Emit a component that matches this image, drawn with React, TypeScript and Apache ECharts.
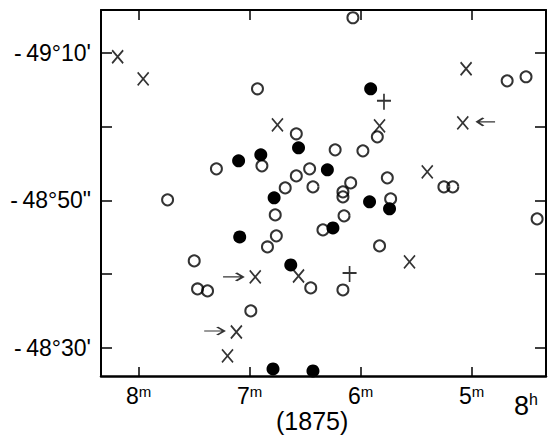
import React, { useEffect, useRef } from "react";
import * as echarts from "echarts";

// Right ascension (minutes of 8h) and declination (arcmin south of -48°)
const openCircles: [number, number][] = [
  [6.93, 65.12], [6.58, 59.02], [6.89, 54.68], [7.3, 54.27], [7.74, 50.07],
  [6.46, 54.27], [6.58, 53.32], [6.68, 51.69], [6.43, 51.83], [6.77, 48.03],
  [6.07, 74.75], [4.68, 66.2], [4.51, 66.75], [5.85, 58.61], [6.23, 56.85],
  [5.98, 56.71], [6.09, 52.37], [6.16, 51.15], [6.16, 50.47], [5.76, 53.05],
  [5.25, 51.83], [5.17, 51.83], [5.73, 50.2], [6.15, 47.9], [4.41, 47.49],
  [6.34, 46.0], [5.83, 43.83], [6.45, 38.14], [6.16, 37.86], [6.76, 45.19],
  [6.84, 43.69], [7.5, 41.8], [7.47, 38.0], [7.38, 37.73], [6.99, 35.02],
];
const filledCircles: [number, number][] = [
  [7.1, 55.36], [6.9, 56.17], [6.56, 57.12], [6.78, 50.34], [5.91, 65.12],
  [6.3, 54.14], [5.92, 49.8], [5.74, 48.85], [6.25, 46.27], [7.09, 45.05],
  [6.63, 41.25], [6.79, 27.15], [6.43, 26.88],
];
const crossMarks: [number, number][] = [
  [8.19, 69.46], [7.96, 66.47], [6.75, 60.24], [5.05, 67.83], [5.83, 60.1],
  [5.08, 60.51], [5.4, 53.86], [5.56, 41.66], [6.56, 39.76], [6.95, 39.63],
  [7.12, 32.17], [7.2, 28.92],
];
const plusMarks: [number, number][] = [
  [5.79, 63.36], [6.1, 40.03],
];
const rightArrows: [number, number][] = [
  [7.15, 39.63], [7.32, 32.3],
];
const leftArrows: [number, number][] = [
  [4.87, 60.64],
];

const xTicks = [5, 6, 7, 8];
const yTicks = [30, 40, 50, 60, 70];
const yLabelValues = [30, 50, 70];
const yLabelText: Record<number, string> = {
  70: "-\u200949°10'",
  50: "-\u200948°50\"",
  30: "-\u200948°30'",
};
const epochLabel = "(1875)";
const hourLabel = "8";

const INK = "#000000";
const FONT = "'Liberation Sans', Arial, sans-serif";

export default function App() {
  const ref = useRef<HTMLDivElement>(null);
  useEffect(() => {
    if (!ref.current) return;
    const chart = echarts.init(ref.current, null, { renderer: "svg" });
    const xMin = 4.33, xMax = 8.34, yMin = 26.2, yMax = 75.8;
    const axisLine = { show: true, lineStyle: { color: INK, width: 2 } };
    const xAxisBase = {
      type: "value",
      min: xMin,
      max: xMax,
      inverse: true,
      splitLine: { show: false },
      axisLine,
    };
    const yAxisBase = {
      type: "value",
      min: yMin,
      max: yMax,
      splitLine: { show: false },
      axisLine,
    };
    chart.setOption({
      animation: false,
      backgroundColor: "#ffffff",
      grid: { left: 101, right: 14, top: 10, bottom: 67, containLabel: false },
      xAxis: [
        {
          ...xAxisBase,
          position: "bottom",
          axisLine: { show: true, lineStyle: { color: INK, width: 2.5 } },
          axisTick: { show: true, inside: true, length: 9, customValues: xTicks, lineStyle: { color: INK, width: 1.5 } },
          axisLabel: {
            show: true,
            customValues: xTicks,
            margin: 8,
            formatter: (v: number) => `{n|${v}}{s|m}`,
            rich: {
              n: { fontSize: 23, fontFamily: FONT, color: INK, lineHeight: 24 },
              s: { fontSize: 15, fontFamily: FONT, color: INK, lineHeight: 14, verticalAlign: "top" },
            },
          },
        },
        {
          ...xAxisBase,
          position: "top",
          axisTick: { show: true, inside: true, length: 10, customValues: xTicks, lineStyle: { color: INK, width: 1.5 } },
          axisLabel: { show: false },
        },
      ],
      yAxis: [
        {
          ...yAxisBase,
          position: "left",
          axisTick: { show: true, inside: true, length: 11, customValues: yTicks, lineStyle: { color: INK, width: 1.5 } },
          axisLabel: {
            show: true,
            customValues: yLabelValues,
            margin: 10,
            fontSize: 23,
            fontFamily: FONT,
            color: INK,
            formatter: (v: number) => yLabelText[Math.round(v)] ?? "",
          },
        },
        {
          ...yAxisBase,
          position: "right",
          axisTick: { show: true, inside: true, length: 11, customValues: yTicks, lineStyle: { color: INK, width: 1.5 } },
          axisLabel: { show: false },
        },
      ],
      graphic: [
        {
          type: "text",
          left: 312 - 36,
          top: 408,
          style: { text: epochLabel, font: `25px ${FONT}`, fill: INK },
        },
        {
          type: "text",
          left: 514,
          top: 391,
          style: {
            text: `{n|${hourLabel}}{s|h}`,
            rich: {
              n: { fontSize: 27, fontFamily: FONT, fill: INK, lineHeight: 30 },
              s: { fontSize: 16, fontFamily: FONT, fill: INK, lineHeight: 16, verticalAlign: "top" },
            },
          },
        },
      ],
      series: [
        {
          type: "scatter",
          data: openCircles,
          symbol: "circle",
          symbolSize: 11,
          itemStyle: { color: "rgba(0,0,0,0)", borderColor: INK, borderWidth: 2 },
        },
        {
          type: "scatter",
          data: filledCircles,
          symbol: "circle",
          symbolSize: 13,
          itemStyle: { color: INK, borderColor: INK, borderWidth: 0, opacity: 1 },
        },
        {
          type: "scatter",
          data: crossMarks,
          symbol: "path://M0,0L10,12M10,0L0,12",
          symbolSize: [11, 13],
          itemStyle: { color: "rgba(0,0,0,0)", borderColor: INK, borderWidth: 1.8 },
        },
        {
          type: "scatter",
          data: plusMarks,
          symbol: "path://M7,0L7,16M0,7L14,7",
          symbolSize: [14, 16],
          itemStyle: { color: "rgba(0,0,0,0)", borderColor: INK, borderWidth: 1.8 },
        },
        {
          type: "scatter",
          data: rightArrows,
          symbol: "path://M0,5L20,5M13,1L20,5L13,9",
          symbolSize: [20, 8],
          itemStyle: { color: "rgba(0,0,0,0)", borderColor: INK, borderWidth: 1.8 },
        },
        {
          type: "scatter",
          data: leftArrows,
          symbol: "path://M20,5L0,5M7,1L0,5L7,9",
          symbolSize: [18, 8],
          itemStyle: { color: "rgba(0,0,0,0)", borderColor: INK, borderWidth: 1.8 },
        },
      ],
    });
    return () => chart.dispose();
  }, []);
  return (
    <div
      ref={ref}
      style={{ position: "fixed", left: 0, top: 0, width: 560, height: 443, background: "#fff" }}
    />
  );
}
